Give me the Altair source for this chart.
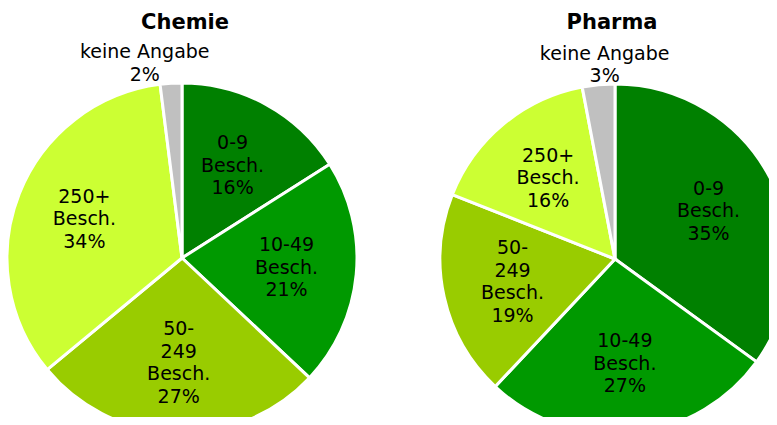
import altair as alt
import pandas as pd

categories = ["0-9", "10-49", "50-249", "250+", "keine Angabe"]
chemie = [16, 21, 27, 34, 2]
pharma = [35, 27, 19, 16, 3]
cat_lines = [["0-9", "Besch."], ["10-49", "Besch."], ["50-", "249", "Besch."], ["250+", "Besch."], ["keine Angabe"]]
colors = ["#008000", "#009900", "#99CC00", "#CCFF33", "#C0C0C0"]
panels = ["Chemie", "Pharma"]

rows = []
for panel, vals in zip(panels, [chemie, pharma]):
    for i, (c, v) in enumerate(zip(categories, vals)):
        lines = cat_lines[i] + [f"{v}%"]
        rows.append({"panel": panel, "cat": c, "order": i, "value": v,
                     "label": lines, "nlines": len(lines)})
df = pd.DataFrame(rows)

FONT = "DejaVu Sans"
FS = 19
LH = 22.5
color = alt.Color("cat:N", scale=alt.Scale(domain=categories, range=colors), legend=None)
theta = alt.Theta("value:Q", stack=True)
order = alt.Order("order:Q")

centers = {"Chemie": (174, 250), "Pharma": (607, 251)}
ka_dx = {"Chemie": -25, "Pharma": 8}


def text_layer(base, cx, cy, radius, n, dx=0, outside=False):
    cond = (alt.datum.cat == "keine Angabe") if outside else (alt.datum.cat != "keine Angabe")
    return base.mark_text(radius=radius, dx=dx, dy=-(n - 1) * LH / 2, font=FONT, fontSize=FS,
                          lineHeight=LH, baseline="middle", align="center", color="black").encode(
        theta=theta, order=order, text="label",
        x=alt.value(cx), y=alt.value(cy),
        opacity=alt.condition(cond & (alt.datum.nlines == n), alt.value(1), alt.value(0)))


layers = []
for panel in panels:
    cx, cy = centers[panel]
    base = alt.Chart(df).transform_filter(alt.datum.panel == panel)
    arc = base.mark_arc(outerRadius=175, stroke="white", strokeWidth=3).encode(
        theta=theta, color=color, order=order,
        x=alt.value(cx), y=alt.value(cy))
    layers.append(arc)
    layers.append(text_layer(base, cx, cy, 105, 3))
    layers.append(text_layer(base, cx, cy, 105, 4))
    layers.append(text_layer(base, cx, cy, 195, 2, dx=ka_dx[panel], outside=True))
    title = alt.Chart(pd.DataFrame({"t": [panel]})).mark_text(
        font=FONT, fontSize=21, fontWeight="bold", color="black", baseline="middle").encode(
        text="t:N", x=alt.value(cx + 3 if panel == "Chemie" else cx - 3), y=alt.value(15))
    layers.append(title)

chart = alt.layer(*layers).resolve_scale(theta="independent").properties(
    width=761, height=409, autosize=alt.AutoSizeParams(type="none"), padding=0
).configure_view(stroke=None)

chart.save("out.html", embed_options={"renderer": "svg", "actions": False})
